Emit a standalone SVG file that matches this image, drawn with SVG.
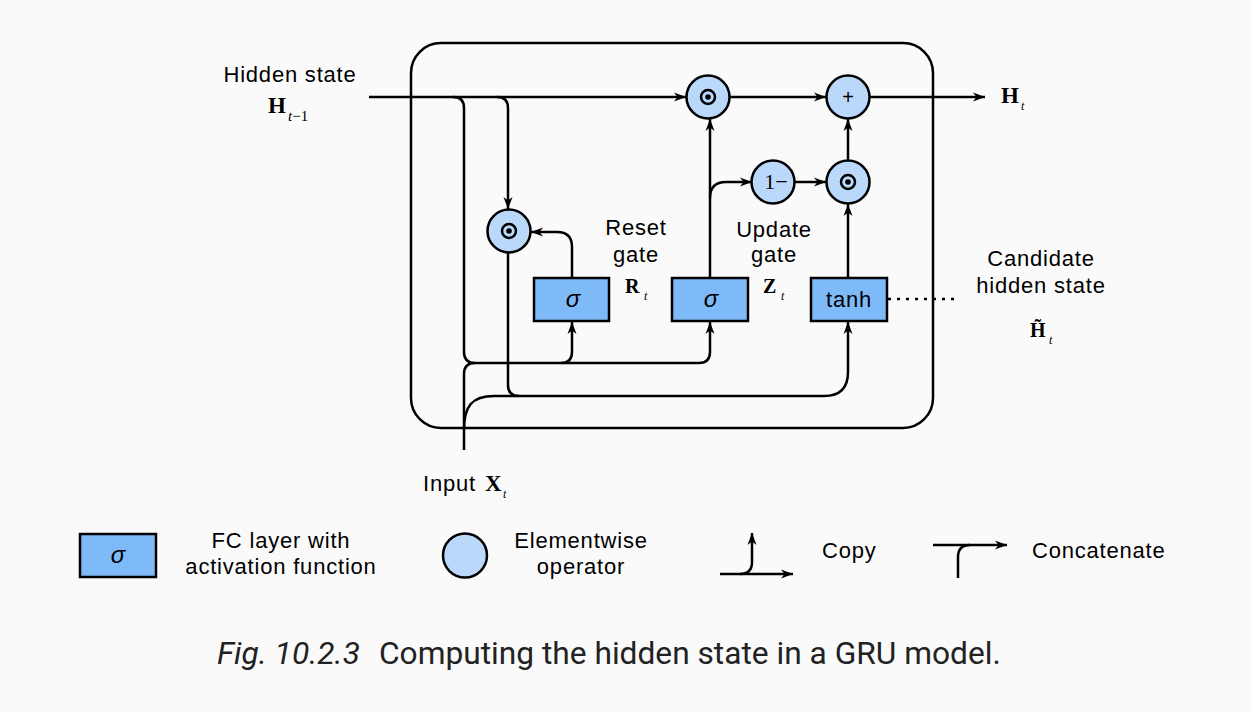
<svg xmlns="http://www.w3.org/2000/svg" width="1252" height="712" viewBox="0 0 1252 712">
<defs>
<marker id="arr" markerWidth="14" markerHeight="11" refX="12" refY="5" orient="auto" markerUnits="userSpaceOnUse">
<path d="M0,0.5 L12,5 L0,9.5 L3.5,5 Z" fill="#000"/>
</marker>
<style>
.ln{fill:none;stroke:#000;stroke-width:2.5}
.ar{marker-end:url(#arr)}
.op{fill:#bad8fa;stroke:#000;stroke-width:2.5}
.dot{fill:none;stroke:#000;stroke-width:2.5}
.fc{fill:#7fbaf8;stroke:#000;stroke-width:2.5}
.t{font-family:"Liberation Sans",Arial,sans-serif;font-size:22px;letter-spacing:0.8px;fill:#000}
.m{text-anchor:middle}
.b{font-family:"Liberation Serif","Times New Roman",serif;font-weight:bold;fill:#000}
.s{font-family:"Liberation Serif","Times New Roman",serif;font-style:italic;fill:#000}
.r{font-family:"Liberation Serif","Times New Roman",serif;fill:#000}
.sig{font-family:"Liberation Sans",Arial,sans-serif;font-style:italic;font-size:24px;text-anchor:middle;fill:#000}
.cap{font-family:Roboto,"Liberation Sans",sans-serif;font-size:31.7px;fill:#222}
</style>
</defs>
<rect width="1252" height="712" fill="#fafafa"/>

<g id="cell">
<rect x="411" y="43" width="522" height="385" rx="30" ry="30" fill="none" stroke="#000" stroke-width="2.5"/>
</g>

<g id="connectors">
<path class="ln ar" d="M369,97 H686"/>
<path class="ln ar" d="M497,97 Q508,97 508,108 V209"/>
<path class="ln ar" d="M453,97 Q464,97 464,108 V352 Q464,363 475,363 H699 Q710,363 710,352 V322"/>
<path class="ln ar" d="M561,363 Q572,363 572,352 V322"/>
<path class="ln" d="M464,450 V374 Q464,363 475,363"/>
<path class="ln ar" d="M464,430 C464,406 472,396 494,396 H824 Q848,396 848,372 V322"/>
<path class="ln" d="M508,253 V385 Q508,396 519,396"/>
<path class="ln ar" d="M572,278 V247 Q572,232 557,232 H531"/>
<path class="ln ar" d="M710,278 V119"/>
<path class="ln ar" d="M710,198 Q710,182 726,182 H752"/>
<path class="ln ar" d="M794,182 H826"/>
<path class="ln ar" d="M848,278 V204"/>
<path class="ln ar" d="M848,160 V119"/>
<path class="ln ar" d="M730,97 H826"/>
<path class="ln ar" d="M870,97 H985"/>
<path d="M888,299 H958" fill="none" stroke="#000" stroke-width="2.5" stroke-dasharray="3,6"/>
</g>

<g id="mul-top">
<circle class="op" cx="708" cy="97" r="21.5"/>
<circle class="dot" cx="708" cy="97" r="7"/>
<circle cx="708" cy="97" r="2.8" fill="#000"/>
</g>
<g id="add">
<circle class="op" cx="848" cy="97" r="21.5"/>
<text x="848" y="104" font-family="Liberation Sans, Arial, sans-serif" font-size="20" text-anchor="middle">+</text>
</g>
<g id="one-minus">
<circle class="op" cx="773" cy="182" r="21.5"/>
<text class="r" x="776" y="189" font-size="22" text-anchor="middle">1−</text>
</g>
<g id="mul-low">
<circle class="op" cx="848" cy="182" r="21.5"/>
<circle class="dot" cx="848" cy="182" r="7"/>
<circle cx="848" cy="182" r="2.8" fill="#000"/>
</g>
<g id="mul-reset">
<circle class="op" cx="509" cy="231" r="21.5"/>
<circle class="dot" cx="509" cy="231" r="7"/>
<circle cx="509" cy="231" r="2.8" fill="#000"/>
</g>

<g id="reset-gate">
<rect class="fc" x="534" y="278" width="75" height="43"/>
<text class="sig" x="573" y="307">σ</text>
</g>
<g id="update-gate">
<rect class="fc" x="672" y="278" width="76" height="43"/>
<text class="sig" x="711" y="307">σ</text>
</g>
<g id="candidate">
<rect class="fc" x="811" y="278" width="76" height="43"/>
<text class="t m" x="849" y="307">tanh</text>
</g>

<g id="labels">
<text class="t m" x="290" y="82">Hidden state</text>
<text class="b" x="268" y="113" font-size="23">H</text>
<text x="288" y="121" font-size="15"><tspan class="s">t</tspan><tspan class="r">−1</tspan></text>

<text class="t m" x="636" y="235">Reset</text>
<text class="t m" x="636" y="262">gate</text>
<text class="b" x="625" y="293" font-size="20">R</text>
<text class="s" x="644" y="300" font-size="12">t</text>

<text class="t m" x="774" y="237">Update</text>
<text class="t m" x="774" y="262">gate</text>
<text class="b" x="763" y="293" font-size="20">Z</text>
<text class="s" x="781" y="300" font-size="12">t</text>

<text class="t m" x="1041" y="266">Candidate</text>
<text class="t m" x="1041" y="293">hidden state</text>
<text class="b" x="1030" y="337" font-size="20">H&#771;</text>
<text class="s" x="1049" y="344" font-size="12">t</text>

<text class="b" x="1001" y="103" font-size="23">H</text>
<text class="s" x="1021" y="110" font-size="12">t</text>

<text class="t" x="423" y="491">Input</text>
<text class="b" x="485" y="491" font-size="23">X</text>
<text class="s" x="503" y="498" font-size="12">t</text>
</g>

<g id="legend-fc">
<rect class="fc" x="80" y="534" width="76" height="43"/>
<text class="sig" x="118" y="563">σ</text>
<text class="t m" x="281" y="548">FC layer with</text>
<text class="t m" x="281" y="574">activation function</text>
</g>
<g id="legend-op">
<circle class="op" cx="465" cy="555.5" r="22"/>
<text class="t m" x="581" y="548">Elementwise</text>
<text class="t m" x="581" y="574">operator</text>
</g>
<g id="legend-copy">
<path class="ln ar" d="M720,574 H793"/>
<path class="ln ar" d="M740,574 Q752,574 752,562 V533"/>
<text class="t" x="822" y="558">Copy</text>
</g>
<g id="legend-concat">
<path class="ln ar" d="M933,545 H1007"/>
<path class="ln" d="M958,578 V557 Q958,545 970,545"/>
<text class="t" x="1032" y="558">Concatenate</text>
</g>

<g id="caption">
<text class="cap" x="217" y="664" font-style="italic">Fig. 10.2.3</text>
<text class="cap" x="379" y="664">Computing the hidden state in a GRU model.</text>
</g>
</svg>
